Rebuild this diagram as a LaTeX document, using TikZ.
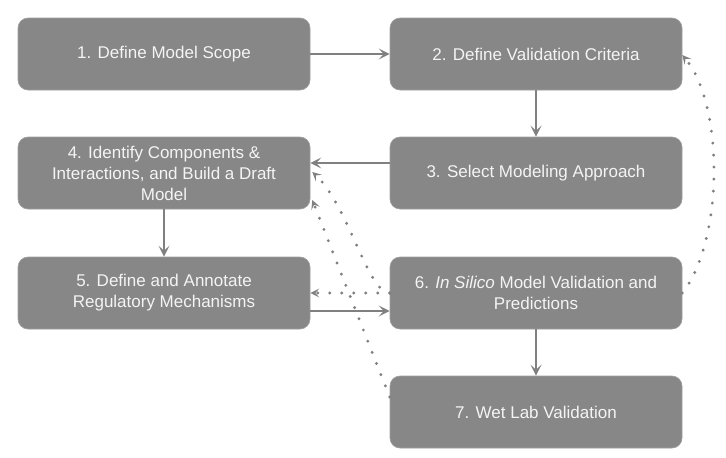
\documentclass[tikz,border=0pt]{standalone}
\usepackage{fontspec}
\setmainfont{Liberation Sans}
\usetikzlibrary{arrows.meta}
\definecolor{boxgray}{HTML}{878787}
\definecolor{linegray}{HTML}{808080}
\definecolor{txt}{HTML}{F4F4F4}
\begin{document}
\begin{tikzpicture}[x=1pt,y=-1pt,
  stepbox/.style={draw=boxgray!80!white, line width=0.6pt, fill=boxgray, rounded corners=10pt,
    minimum width=292pt, minimum height=72pt, text=txt, align=center,
    font=\fontsize{17}{21}\selectfont, inner sep=0pt},
  solidarrow/.style={draw=linegray, line width=2.2pt,
    -{Stealth[length=11pt,width=11pt,inset=5pt]}},
  dotarrow/.style={draw=linegray, line width=3.2pt, line cap=round,
    dash pattern=on 0pt off 12pt,
    -{Stealth[length=9pt,width=9pt,inset=4pt,line width=0pt]}}
]
\useasboundingbox (0,0) rectangle (726,458);
\fill[white] (0,0) rectangle (726,458);

\node[stepbox] (b1) at (164,54) {1. Define Model Scope};
\node[stepbox] (b2) at (536,54) {2. Define Validation Criteria};
\node[stepbox] (b3) at (536,173) {3. Select Modeling Approach};
\node[stepbox] (b4) at (164,173) {4. Identify Components \&\\Interactions, and Build a Draft\\Model};
\node[stepbox] (b5) at (164,293) {5. Define and Annotate\\Regulatory Mechanisms};
\node[stepbox] (b6) at (536,293) {6. \textit{In Silico} Model Validation and\\Predictions};
\node[stepbox] (b7) at (536,412) {7. Wet Lab Validation};

% solid arrows
\draw[solidarrow] (b1.east) -- (b2.west);
\draw[solidarrow] (b2.south) -- (b3.north);
\draw[solidarrow] ([yshift=10pt]b3.west) -- ([yshift=10pt]b4.east);
\draw[solidarrow] (b4.south) -- (b5.north);
\draw[solidarrow] ([yshift=-18pt]b5.east) -- ([yshift=-18pt]b6.west);
\draw[solidarrow] (b6.south) -- (b7.north);

% dotted feedback arrows
\draw[dotarrow] (b6.east) .. controls (724,240) and (724,105) .. ([yshift=-1pt]b2.east);
\draw[dotarrow] (b6.west) -- (b5.east);
\draw[dotarrow] (b6.west) .. controls (368,293) and (348,205) .. ([shift={(2pt,1pt)}]b4.east);
\draw[dotarrow] ([yshift=15pt]b7.west) -- ([shift={(2pt,-27pt)}]b4.east);
\end{tikzpicture}
\end{document}
